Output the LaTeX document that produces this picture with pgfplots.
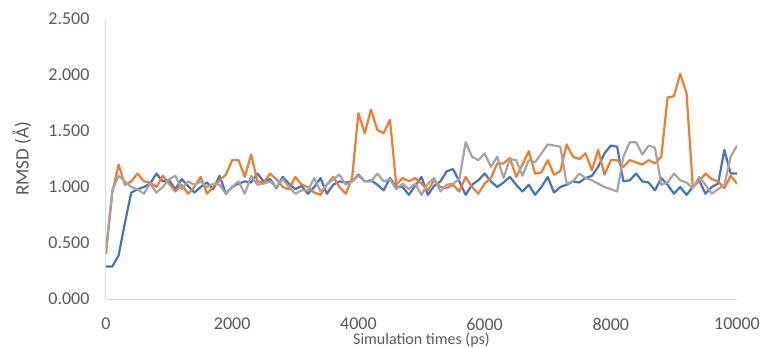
\documentclass[border=0pt]{standalone}
\usepackage{pgfplots}
\pgfplotsset{compat=1.18}
\usepackage{fontspec}
\setmainfont{Carlito}
\definecolor{sblue}{HTML}{4472C4}
\definecolor{sorange}{HTML}{ED7D31}
\definecolor{sgray}{HTML}{A5A5A5}
\definecolor{txt}{HTML}{595959}
\definecolor{axl}{HTML}{D9D9D9}
\begin{document}
\begin{tikzpicture}
\useasboundingbox (-106bp,-49bp) rectangle (654bp,299bp);
\begin{axis}[
  scale only axis, width=631bp, height=280bp,
  xmin=0, xmax=10000, ymin=0, ymax=2.5,
  axis x line=bottom, axis y line=left,
  axis line style={axl, line width=1bp, -},
  major tick length=0pt,
  xtick={0,2000,4000,6000,8000,10000},
  ytick={0,0.5,1,1.5,2,2.5},
  scaled x ticks=false, scaled y ticks=false,
  /pgf/number format/assume math mode=true,
  xticklabel style={/pgf/number format/set thousands separator={}, font=\fontsize{18bp}{20bp}\selectfont, text=txt, anchor=center, yshift=-25bp},
  yticklabel style={/pgf/number format/fixed, /pgf/number format/fixed zerofill, /pgf/number format/precision=3, font=\fontsize{18bp}{20bp}\selectfont, text=txt, xshift=-13bp},
  xlabel={Simulation times (ps)},
  ylabel={RMSD (Å)},
  every axis x label/.style={at={(axis description cs:0.5,0)}, yshift=-41bp, anchor=center, font=\fontsize{16bp}{18bp}\selectfont, text=txt},
  every axis y label/.style={at={(axis description cs:0,0.5)}, xshift=-84bp, rotate=90, anchor=center, font=\fontsize{19bp}{21bp}\selectfont, text=txt},
  every axis plot/.append style={line width=2.2bp, line join=round, mark=none},
]
\addplot[sblue] table {
0 0.29
100 0.29
200 0.39
300 0.68
400 0.95
500 0.98
600 1.00
700 1.03
800 1.12
900 1.05
1000 1.06
1100 0.98
1200 1.07
1300 1.01
1400 0.95
1500 1.00
1600 1.04
1700 0.98
1800 1.10
1900 0.94
2000 1.00
2100 1.03
2200 1.05
2300 1.04
2400 1.12
2500 1.05
2600 1.07
2700 0.99
2800 1.09
2900 1.03
3000 0.98
3100 1.01
3200 0.94
3300 1.00
3400 1.08
3500 0.94
3600 1.02
3700 1.05
3800 1.04
3900 1.05
4000 1.11
4100 1.05
4200 1.06
4300 1.02
4400 0.97
4500 1.08
4600 1.00
4700 1.00
4800 0.93
4900 1.01
5000 1.09
5100 0.93
5200 1.01
5300 1.05
5400 1.14
5500 1.16
5600 1.05
5700 0.93
5800 1.02
5900 1.06
6000 1.12
6100 1.05
6200 1.00
6300 1.04
6400 1.09
6500 1.02
6600 0.96
6700 1.02
6800 0.93
6900 1.00
7000 1.09
7100 0.95
7200 1.00
7300 1.02
7400 1.05
7500 1.04
7600 1.08
7700 1.10
7800 1.18
7900 1.30
8000 1.37
8100 1.36
8200 1.05
8300 1.06
8400 1.12
8500 1.05
8600 1.04
8700 0.97
8800 1.08
8900 1.02
9000 0.94
9100 1.00
9200 0.93
9300 1.00
9400 1.06
9500 0.94
9600 1.00
9700 1.03
9800 1.33
9900 1.12
10000 1.12
};
\addplot[sorange] table {
0 0.40
100 0.95
200 1.20
300 1.02
400 1.05
500 1.12
600 1.05
700 1.04
800 1.00
900 1.10
1000 1.03
1100 0.96
1200 1.02
1300 0.94
1400 1.00
1500 1.09
1600 0.94
1700 1.00
1800 1.06
1900 1.11
2000 1.24
2100 1.24
2200 1.09
2300 1.29
2400 1.05
2500 1.04
2600 1.12
2700 1.07
2800 1.00
2900 0.98
3000 1.09
3100 1.02
3200 1.00
3300 0.95
3400 0.93
3500 1.02
3600 1.09
3700 1.00
3800 0.94
3900 1.08
4000 1.66
4100 1.48
4200 1.69
4300 1.51
4400 1.48
4500 1.60
4600 1.02
4700 1.08
4800 1.05
4900 1.08
5000 1.03
5100 0.97
5200 1.06
5300 1.00
5400 0.99
5500 1.02
5600 0.96
5700 1.09
5800 1.00
5900 0.94
6000 1.03
6100 1.08
6200 1.21
6300 1.21
6400 1.26
6500 1.09
6600 1.20
6700 1.32
6800 1.12
6900 1.13
7000 1.24
7100 1.11
7200 1.14
7300 1.38
7400 1.27
7500 1.25
7600 1.30
7700 1.15
7800 1.33
7900 1.11
8000 1.24
8100 1.24
8200 1.18
8300 1.24
8400 1.22
8500 1.20
8600 1.24
8700 1.21
8800 1.27
8900 1.80
9000 1.81
9100 2.01
9200 1.84
9300 1.00
9400 1.05
9500 1.12
9600 1.07
9700 1.05
9800 0.99
9900 1.10
10000 1.03
};
\addplot[sgray] table {
0 0.45
100 0.97
200 1.10
300 1.05
400 1.00
500 0.98
600 0.94
700 1.03
800 0.95
900 1.00
1000 1.07
1100 1.10
1200 0.98
1300 1.05
1400 1.02
1500 1.05
1600 1.00
1700 1.03
1800 1.02
1900 0.94
2000 1.00
2100 1.05
2200 0.94
2300 1.10
2400 1.02
2500 1.03
2600 1.05
2700 1.00
2800 1.07
2900 1.00
3000 0.94
3100 0.97
3200 0.97
3300 1.08
3400 0.96
3500 1.02
3600 1.07
3700 1.11
3800 1.02
3900 1.05
4000 1.10
4100 1.05
4200 1.05
4300 1.12
4400 1.05
4500 1.07
4600 0.98
4700 1.03
4800 0.98
4900 1.03
5000 0.93
5100 1.03
5200 1.08
5300 0.96
5400 1.02
5500 1.03
5600 1.07
5700 1.40
5800 1.27
5900 1.24
6000 1.30
6100 1.18
6200 1.27
6300 1.08
6400 1.25
6500 1.24
6600 1.10
6700 1.24
6800 1.22
6900 1.30
7000 1.38
7100 1.37
7200 1.36
7300 1.03
7400 1.05
7500 1.12
7600 1.08
7700 1.06
7800 1.03
7900 1.00
8000 0.98
8100 0.96
8200 1.27
8300 1.40
8400 1.40
8500 1.29
8600 1.37
8700 1.35
8800 1.02
8900 1.04
9000 1.12
9100 1.06
9200 1.04
9300 0.99
9400 1.09
9500 1.02
9600 0.94
9700 0.98
9800 1.02
9900 1.27
10000 1.37
};
\end{axis}
\end{tikzpicture}
\end{document}
